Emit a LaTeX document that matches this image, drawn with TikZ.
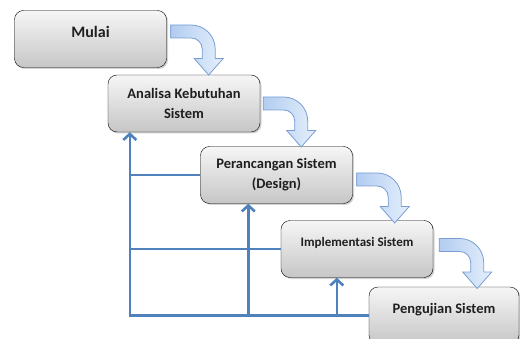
\documentclass[tikz,border=0pt]{standalone}
\usepackage{fontspec}
\setmainfont{Carlito}
\usetikzlibrary{positioning, calc, shadows, arrows.meta}
\definecolor{wfBlue}{RGB}{79,129,189}
\definecolor{wfArrowEdge}{RGB}{120,158,210}
\definecolor{wfArrowDark}{RGB}{178,204,240}
\definecolor{wfArrowLight}{RGB}{228,239,252}
\definecolor{wfBoxTop}{RGB}{246,246,246}
\definecolor{wfBoxBottom}{RGB}{198,198,198}

% curved block arrow between two steps, starting at #1
\newcommand{\flowArrow}[1]{%
  \draw[wfArrowEdge, line width=0.8pt, left color=wfArrowDark, right color=wfArrowLight]
    (#1) ++(0,6.5) -- ++(20.5,0) arc[start angle=90, end angle=0, radius=24pt]
    -- ++(0,-9.5) -- ++(8,0) -- ++(-14.5,-16.5) -- ++(-14.5,16.5) -- ++(8,0)
    -- ++(0,9.5) arc[start angle=0, end angle=90, radius=11pt] -- ++(-20.5,0) -- cycle;}

\begin{document}
\begin{tikzpicture}[x=1pt, y=1pt,
    stepbox/.style={draw, rounded corners=9pt, minimum width=152pt, minimum height=57pt, top color=wfBoxTop, bottom color=wfBoxBottom, drop shadow={shadow xshift=1.5pt, shadow yshift=-1.5pt, opacity=0.35}, font=\bfseries\fontsize{14.5}{20}\selectfont, align=center, text=black!88},
    loopline/.style={wfBlue, line width=2.6pt},
    looparrow/.style={loopline, -{Straight Barb[length=6pt, width=13pt]}}]
      \useasboundingbox (0,0) rectangle (520,338);

      \node[stepbox, font=\bfseries\fontsize{16}{20}\selectfont] (mulai) at (90.5,299) {Mulai\\[-6pt]\mbox{}};
      \node[stepbox] (analisa) at (184,234.5) {Analisa Kebutuhan\\Sistem};
      \node[stepbox] (perancangan) at (276.5,163) {Perancangan Sistem\\(Design)};
      \node[stepbox, font=\bfseries\fontsize{13}{20}\selectfont] (implementasi) at (357,89) {Implementasi Sistem\\[-6pt]\mbox{}};
      \node[stepbox, minimum width=150pt] (pengujian) at (444,22.5) {Pengujian Sistem\\[-6pt]\mbox{}};

      \flowArrow{$(mulai.east)+(4,7.5)$}
      \flowArrow{$(analisa.east)+(3,0)$}
      \flowArrow{$(perancangan.east)+(4,-4.5)$}
      \flowArrow{$(implementasi.east)+(6,4)$}

      \coordinate (loopbase) at ($(analisa.south west)+(22,0)$);
      \coordinate (designup) at ($(perancangan.south west)+(48,0)$);
      \coordinate (implup) at ($(implementasi.south west)+(56,0)$);
      \draw[looparrow] (pengujian.west) -| (loopbase);
      \draw[loopline] (perancangan.west) -- (perancangan.west -| loopbase);
      \draw[loopline] (implementasi.west) -- (implementasi.west -| loopbase);
      \draw[looparrow] (designup |- pengujian.west) -- (designup);
      \draw[looparrow] (implup |- pengujian.west) -- (implup);
    \end{tikzpicture}
\end{document}
